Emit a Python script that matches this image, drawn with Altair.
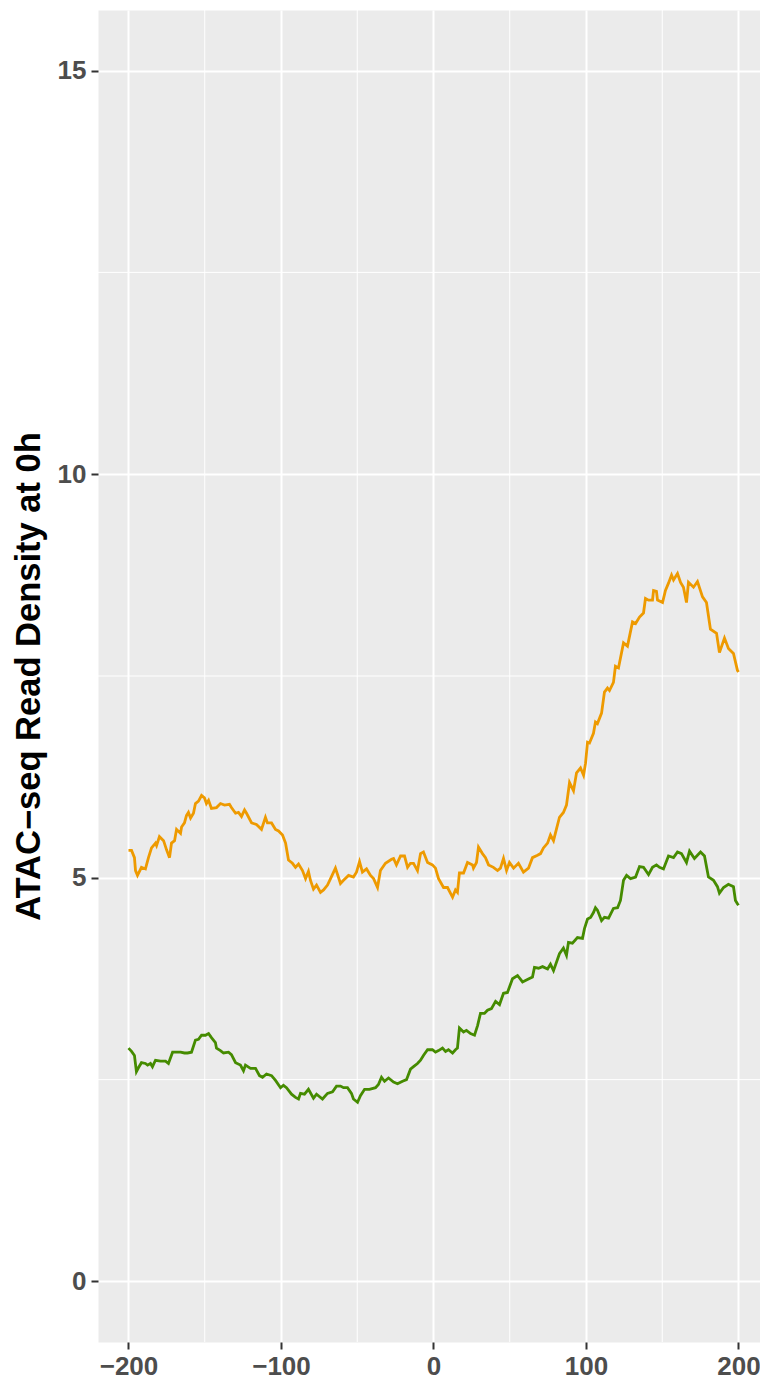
import altair as alt
import pandas as pd

# Upper (orange) profile
orange_x = [-200, -198.0, -196.1, -195.4, -194.1, -191.5, -188.9, -186.9, -184.9, -182.3,
            -181.6, -179.7, -177.0, -175.1, -173.1, -171.8, -169.8, -168.5, -165.9, -165.2,
            -163.3, -162.0, -160.7, -159.3, -157.4, -156.1, -154.1, -152.1, -150.2, -148.9,
            -147.5, -145.6, -142.3, -139.7, -137.0, -133.8, -132.5, -129.8, -127.9, -125.9,
            -123.9, -122.6, -119.3, -116.1, -112.8, -110.2, -108.9, -106.2, -103.6, -101.6,
            -99.0, -97.0, -95.1, -92.5, -90.5, -88.5, -85.9, -83.9, -82.0, -80.7,
            -78.7, -76.7, -74.1, -72.1, -69.5, -67.5, -64.3, -61.0, -59.0, -55.7,
            -52.5, -50.5, -48.5, -46.6, -43.9, -41.3, -39.3, -36.7, -34.8, -31.5,
            -27.5, -26.2, -24.3, -21.6, -19.0, -17.0, -15.1, -13.1, -10.5, -8.5,
            -6.6, -3.9, -0.7, 1.3, 3.3, 6.6, 9.2, 11.1, 12.5, 14.4,
            15.7, 17.0, 19.7, 22.3, 25.6, 26.2, 28.2, 29.5, 32.1, 34.1,
            36.1, 39.3, 42.0, 43.9, 45.9, 47.9, 49.8, 52.5, 55.7, 59.0,
            62.3, 64.9, 68.2, 70.2, 72.1, 74.8, 76.7, 78.7, 80.7, 82.6,
            85.2, 87.2, 89.2, 91.8, 93.8, 96.4, 98.4, 99.7, 101.0, 102.3,
            104.9, 106.2, 107.5, 110.2, 112.1, 114.1, 115.4, 118.0, 119.3, 121.3,
            124.6, 127.2, 130.5, 132.5, 135.1, 137.7, 139.0, 141.0, 143.6, 144.3,
            146.2, 146.9, 150.2, 152.1, 154.1, 156.1, 157.4, 160.0, 162.0, 163.9,
            165.9, 167.2, 170.5, 173.1, 176.4, 179.0, 181.6, 185.6, 187.5, 190.8,
            193.4, 196.7, 199.3, 200]
orange_y = [5.34, 5.34, 5.25, 5.09, 5.03, 5.13, 5.11, 5.25, 5.37, 5.43,
            5.40, 5.51, 5.46, 5.35, 5.25, 5.43, 5.46, 5.60, 5.55, 5.63,
            5.68, 5.77, 5.81, 5.74, 5.80, 5.92, 5.95, 6.02, 5.99, 5.92,
            5.96, 5.86, 5.87, 5.92, 5.90, 5.91, 5.87, 5.80, 5.81, 5.76,
            5.84, 5.80, 5.68, 5.66, 5.60, 5.75, 5.68, 5.68, 5.60, 5.58,
            5.53, 5.43, 5.22, 5.18, 5.13, 5.17, 5.09, 4.99, 5.08, 4.97,
            4.86, 4.91, 4.82, 4.85, 4.91, 4.99, 5.12, 4.93, 4.97, 5.03,
            5.01, 5.07, 5.20, 5.07, 5.11, 5.03, 4.99, 4.88, 5.09, 5.18,
            5.23, 5.24, 5.16, 5.27, 5.27, 5.13, 5.18, 5.18, 5.09, 5.30,
            5.32, 5.19, 5.16, 5.12, 4.99, 4.88, 4.88, 4.81, 4.76, 4.85,
            4.82, 5.06, 5.06, 5.19, 5.16, 5.12, 5.19, 5.38, 5.30, 5.25,
            5.16, 5.13, 5.09, 5.12, 5.24, 5.09, 5.19, 5.12, 5.18, 5.07,
            5.12, 5.25, 5.28, 5.30, 5.37, 5.43, 5.53, 5.46, 5.61, 5.75,
            5.81, 5.90, 6.18, 6.08, 6.30, 6.36, 6.27, 6.42, 6.68, 6.67,
            6.79, 6.93, 6.91, 7.04, 7.30, 7.35, 7.32, 7.42, 7.62, 7.60,
            7.91, 7.87, 8.17, 8.15, 8.23, 8.28, 8.46, 8.44, 8.44, 8.56,
            8.55, 8.44, 8.41, 8.56, 8.65, 8.75, 8.69, 8.77, 8.66, 8.60,
            8.41, 8.66, 8.60, 8.67, 8.48, 8.41, 8.08, 8.03, 7.79, 7.97,
            7.84, 7.78, 7.57, 7.55]

# Lower (green) profile
green_x = [-200, -198.0, -196.1, -194.8, -193.4, -191.5, -188.9, -187.5, -185.6, -184.3,
           -182.3, -179.0, -175.7, -173.8, -171.1, -169.2, -165.9, -163.3, -161.3, -158.7,
           -156.1, -154.1, -152.1, -149.5, -147.5, -145.6, -143.0, -142.3, -139.7, -137.7,
           -134.4, -132.5, -129.8, -126.6, -124.6, -123.3, -120.0, -116.7, -114.1, -112.1,
           -109.5, -106.2, -103.6, -100.3, -98.4, -96.4, -93.1, -90.5, -88.5, -87.2,
           -84.6, -82.0, -78.7, -76.7, -72.8, -69.5, -66.2, -63.6, -61.0, -59.0,
           -56.4, -53.8, -52.5, -49.8, -47.9, -45.2, -42.0, -38.0, -36.1, -34.1,
           -32.1, -29.5, -26.2, -23.6, -20.3, -17.7, -15.1, -13.1, -10.5, -8.5,
           -6.6, -3.9, -0.7, 1.3, 3.3, 5.9, 7.9, 9.8, 12.5, 14.4,
           15.7, 17.0, 19.7, 21.6, 24.3, 26.9, 28.9, 30.8, 33.4, 35.4,
           38.0, 40.7, 43.3, 45.9, 48.5, 51.8, 55.1, 58.4, 61.6, 64.9,
           66.2, 68.9, 71.5, 74.8, 76.7, 78.7, 82.6, 85.2, 87.2, 88.5,
           91.1, 94.4, 97.7, 99.0, 101.0, 103.0, 104.9, 106.2, 107.5, 110.2,
           112.1, 114.8, 118.0, 120.7, 122.6, 124.6, 126.6, 129.2, 132.5, 135.1,
           137.7, 141.0, 143.6, 146.2, 148.2, 150.8, 154.1, 157.4, 160.0, 162.6,
           165.9, 167.9, 171.1, 175.1, 177.7, 180.3, 183.6, 186.2, 187.5, 190.2,
           193.4, 196.7, 198.0, 199.3, 200]
green_y = [2.89, 2.85, 2.80, 2.60, 2.65, 2.71, 2.70, 2.68, 2.70, 2.66,
           2.74, 2.73, 2.73, 2.70, 2.84, 2.84, 2.84, 2.83, 2.83, 2.84,
           2.99, 3.00, 3.05, 3.05, 3.07, 3.02, 2.96, 2.89, 2.86, 2.83,
           2.84, 2.81, 2.71, 2.68, 2.61, 2.68, 2.64, 2.64, 2.55, 2.53,
           2.57, 2.55, 2.49, 2.40, 2.43, 2.40, 2.32, 2.28, 2.26, 2.33,
           2.32, 2.38, 2.27, 2.32, 2.26, 2.33, 2.35, 2.42, 2.42, 2.40,
           2.40, 2.33, 2.26, 2.22, 2.30, 2.38, 2.38, 2.40, 2.44, 2.53,
           2.48, 2.52, 2.47, 2.45, 2.48, 2.50, 2.63, 2.66, 2.70, 2.74,
           2.80, 2.87, 2.87, 2.84, 2.86, 2.89, 2.85, 2.87, 2.83, 2.87,
           2.89, 3.14, 3.09, 3.11, 3.07, 3.05, 3.17, 3.32, 3.32, 3.36,
           3.38, 3.47, 3.43, 3.57, 3.58, 3.75, 3.79, 3.71, 3.74, 3.77,
           3.89, 3.88, 3.90, 3.87, 3.93, 3.85, 4.06, 4.13, 4.04, 4.20,
           4.19, 4.26, 4.25, 4.37, 4.49, 4.51, 4.57, 4.63, 4.60, 4.47,
           4.51, 4.50, 4.62, 4.63, 4.72, 4.97, 5.03, 4.99, 5.01, 5.14,
           5.13, 5.04, 5.13, 5.16, 5.13, 5.11, 5.27, 5.25, 5.32, 5.30,
           5.19, 5.33, 5.24, 5.32, 5.27, 5.01, 4.97, 4.89, 4.81, 4.88,
           4.92, 4.89, 4.72, 4.68, 4.66]

series_names = ["upper", "lower"]
series_colors = ["#EE9A00", "#458B00"]

x_ticks = [-200, -100, 0, 100, 200]
y_ticks = [0, 5, 10, 15]
minor_x = [-150, -50, 50, 150]
minor_y = [2.5, 7.5, 12.5]

df = pd.concat([
    pd.DataFrame({"x": orange_x, "y": orange_y, "series": series_names[0]}),
    pd.DataFrame({"x": green_x, "y": green_y, "series": series_names[1]}),
], ignore_index=True)

xscale = alt.Scale(domain=[-220, 214.1], nice=False, zero=False)
yscale = alt.Scale(domain=[-0.75, 15.75], nice=False, zero=False)

label_font = "Liberation Sans"

x_axis = alt.Axis(
    values=x_ticks, title=None, grid=True, gridColor="white", gridWidth=2,
    domain=False, tickColor="#333333", tickSize=7, tickWidth=2,
    labelFont=label_font, labelFontWeight="bold", labelFontSize=26,
    labelColor="#4D4D4D", labelBaseline="alphabetic", labelPadding=25,
    labelFlush=False)

y_axis = alt.Axis(
    values=y_ticks, title="ATAC−seq Read Density at 0h", grid=True,
    gridColor="white", gridWidth=2, domain=False, tickColor="#333333",
    tickSize=7, tickWidth=2, labelFont=label_font, labelFontWeight="bold",
    labelFontSize=26, labelColor="#4D4D4D", labelPadding=5,
    titleFont=label_font, titleFontWeight="bold", titleFontSize=34.5,
    titleColor="black", titleX=-69, titleY=666, titleAngle=270,
    titleAlign="center", titleBaseline="middle")

minor_v = alt.Chart(pd.DataFrame({"x": minor_x})).mark_rule(
    color="white", strokeWidth=1
).encode(x=alt.X("x:Q", scale=xscale, axis=x_axis))

minor_h = alt.Chart(pd.DataFrame({"y": minor_y})).mark_rule(
    color="white", strokeWidth=1
).encode(y=alt.Y("y:Q", scale=yscale, axis=y_axis))

lines = alt.Chart(df).mark_line(strokeWidth=2.8).encode(
    x=alt.X("x:Q", scale=xscale, axis=x_axis),
    y=alt.Y("y:Q", scale=yscale, axis=y_axis),
    color=alt.Color("series:N", scale=alt.Scale(domain=series_names, range=series_colors),
                    legend=None),
)

chart = alt.layer(minor_v, minor_h, lines).properties(
    width=662, height=1332,
    autosize=alt.AutoSizeParams(type="none"),
    padding={"left": 90, "top": 2, "right": 0, "bottom": 33},
    background="white",
).configure_view(fill="#EBEBEB", stroke="transparent")

chart.save("out.html", embed_options={"renderer": "svg", "actions": False})
